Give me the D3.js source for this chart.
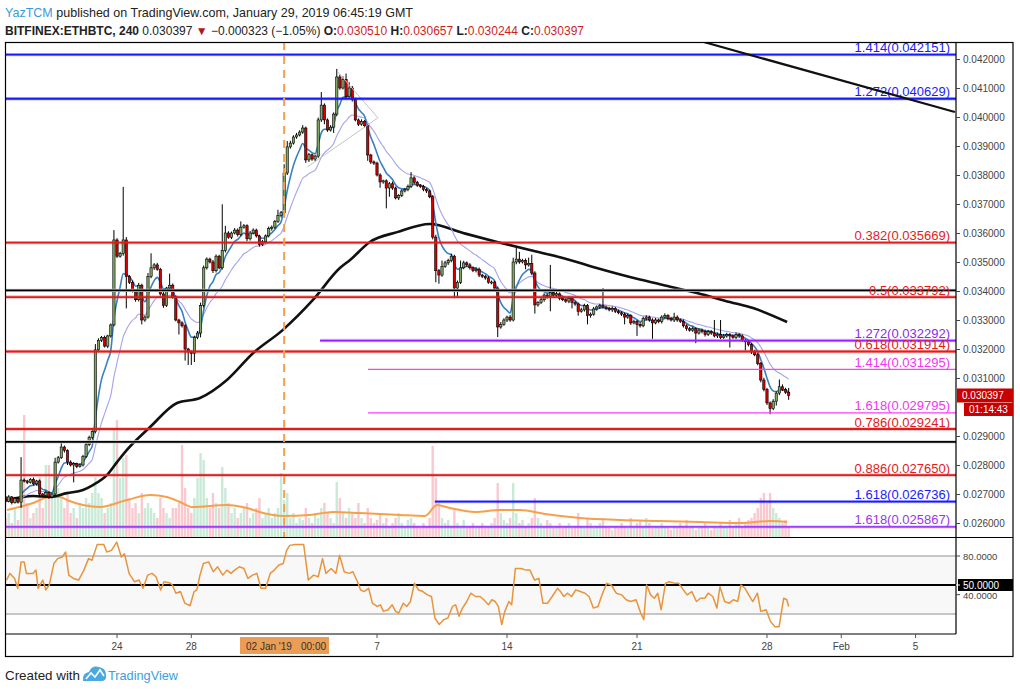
<!DOCTYPE html>
<html><head><meta charset="utf-8">
<script src="https://cdn.jsdelivr.net/npm/d3@7"></script>
<style>body{margin:0;background:#fff;}svg{display:block;font-family:"Liberation Sans",Arial,sans-serif;}</style>
</head><body><svg id="c" width="1020" height="693"></svg>
<script>
// ---------------- DATA ----------------
const firstOpen = 0.02690;
const closes = [
0.02675,0.02690,0.02670,0.02685,0.02672,0.02748,0.02745,0.02740,0.02750,0.02735,
0.02745,0.02700,0.02695,0.02705,0.02690,0.02700,0.02810,0.02825,0.02862,0.02850,
0.02810,0.02800,0.02805,0.02795,0.02800,0.02830,0.02870,0.02895,0.02915,0.03197,
0.03230,0.03240,0.03210,0.03245,0.03283,0.03576,0.03520,0.03530,0.03576,0.03450,
0.03430,0.03400,0.03370,0.03420,0.03300,0.03310,0.03450,0.03480,0.03490,0.03475,
0.03390,0.03350,0.03410,0.03420,0.03380,0.03300,0.03290,0.03280,0.03200,0.03190,
0.03185,0.03240,0.03255,0.03350,0.03480,0.03510,0.03500,0.03470,0.03520,0.03480,
0.03540,0.03600,0.03585,0.03600,0.03610,0.03595,0.03620,0.03625,0.03580,0.03600,
0.03610,0.03590,0.03560,0.03570,0.03590,0.03615,0.03620,0.03640,0.03660,0.03670,
0.03807,0.03897,0.03910,0.03931,0.03938,0.03948,0.03962,0.03852,0.03870,0.03855,
0.03865,0.03990,0.04041,0.03990,0.03955,0.03965,0.04010,0.04138,0.04100,0.04130,
0.04070,0.04100,0.04060,0.03990,0.03975,0.03985,0.03970,0.03869,0.03845,0.03841,
0.03800,0.03776,0.03780,0.03755,0.03770,0.03755,0.03721,0.03730,0.03745,0.03750,
0.03760,0.03790,0.03775,0.03765,0.03760,0.03750,0.03745,0.03725,0.03586,0.03470,
0.03455,0.03485,0.03497,0.03505,0.03520,0.03410,0.03430,0.03480,0.03497,0.03490,
0.03480,0.03470,0.03475,0.03455,0.03450,0.03445,0.03430,0.03431,0.03410,0.03276,
0.03285,0.03300,0.03310,0.03300,0.03500,0.03510,0.03500,0.03505,0.03490,0.03495,
0.03462,0.03352,0.03360,0.03370,0.03386,0.03380,0.03395,0.03385,0.03390,0.03375,
0.03370,0.03365,0.03375,0.03360,0.03355,0.03330,0.03335,0.03350,0.03315,0.03320,
0.03338,0.03345,0.03350,0.03345,0.03340,0.03335,0.03340,0.03330,0.03325,0.03320,
0.03310,0.03315,0.03290,0.03295,0.03285,0.03280,0.03305,0.03310,0.03300,0.03290,
0.03300,0.03295,0.03310,0.03315,0.03305,0.03300,0.03310,0.03300,0.03295,0.03280,
0.03270,0.03265,0.03270,0.03255,0.03265,0.03260,0.03250,0.03260,0.03255,0.03245,
0.03250,0.03240,0.03245,0.03250,0.03245,0.03240,0.03250,0.03245,0.03230,0.03225,
0.03215,0.03190,0.03180,0.03150,0.03093,0.03060,0.03014,0.02995,0.03020,0.03048,
0.03070,0.03060,0.03051,0.030397];
// wick lengths above / below the body, in units of 0.00001
const upWick = [
4,6,3,5,4,79,6,4,5,7,4,5,3,6,4,5,15,6,20,5,
4,6,5,3,6,5,10,6,5,20,7,5,6,4,5,34,6,5,183,10,
5,6,4,8,5,6,12,50,6,7,5,6,4,40,6,5,4,6,5,4,
5,6,7,10,8,6,5,7,6,5,159,25,6,5,7,6,20,6,5,7,
6,5,4,6,5,7,6,5,20,6,30,20,8,6,7,6,10,5,6,4,
5,8,45,6,5,7,6,28,8,10,20,20,7,6,5,7,5,6,4,5,
5,6,4,5,6,7,5,4,6,5,7,20,6,5,4,6,5,4,6,8,
6,20,7,6,8,5,6,25,7,5,6,5,7,6,4,5,6,5,4,6,
8,6,5,7,15,40,25,6,7,20,30,6,5,8,6,5,95,6,7,5,
6,5,7,5,6,5,7,6,5,6,7,5,6,60,5,6,7,5,6,5,
6,7,5,6,5,8,7,6,5,6,7,5,6,8,5,6,15,6,5,7,
5,6,7,5,6,5,7,6,5,45,6,50,7,6,5,6,7,5,6,5,
6,5,7,6,5,8,6,5,7,6,25,8,6,15];
const lowWick = [
5,4,6,3,5,20,5,6,4,5,6,10,5,4,6,5,6,5,4,7,
10,5,60,6,4,5,6,5,7,6,8,6,5,7,6,5,6,5,8,110,
6,5,7,6,15,6,5,6,7,5,6,8,5,6,7,5,40,6,40,45,
40,30,6,15,7,6,5,8,6,5,6,7,5,6,5,7,6,5,8,6,
5,6,7,5,6,5,7,6,5,6,5,7,6,5,6,5,6,10,7,6,
8,6,7,15,6,5,20,7,6,5,8,6,7,5,6,5,6,20,7,6,
5,20,6,70,30,6,5,7,6,5,6,5,7,6,5,6,7,5,8,40,
30,6,5,7,6,35,30,6,5,7,6,5,6,7,5,6,5,7,6,35,
6,5,7,6,5,8,6,5,15,6,7,30,6,5,7,6,50,5,6,7,
5,6,7,20,6,15,5,6,30,7,5,6,7,5,6,5,7,6,5,6,
25,6,7,5,40,6,5,7,6,55,5,6,7,5,6,5,7,6,5,6,
7,5,6,35,5,6,7,5,6,5,7,6,5,6,40,5,6,7,5,30,
6,7,5,6,8,6,7,20,6,15,7,5,6,15];
const volumes = [
20,25,15,30,18,40,123,35,20,25,30,61,30,73,73,40,53,50,40,30,
45,25,30,20,35,30,40,35,45,61,45,40,25,30,35,108,118,60,80,83,
40,30,35,25,45,30,35,30,25,20,40,30,25,20,30,30,35,93,50,30,
25,40,60,85,78,40,30,45,35,30,71,50,35,25,30,20,25,30,35,20,
25,30,40,20,25,30,20,25,30,65,38,45,20,25,15,20,18,30,20,15,
25,20,30,35,25,20,15,56,40,25,20,30,25,20,35,20,15,30,20,15,
18,25,15,20,12,15,20,25,15,12,18,20,15,12,10,15,12,20,92,60,
35,20,15,18,12,30,15,12,18,10,12,15,10,12,15,10,12,15,20,55,
25,18,15,20,55,25,15,18,12,15,20,40,20,15,12,18,15,10,12,15,
10,12,15,10,12,25,12,10,20,15,10,12,15,20,12,10,8,12,10,15,
12,10,20,12,15,18,12,20,15,10,12,10,15,12,10,8,12,10,15,12,
18,10,12,8,10,12,15,10,8,12,10,15,12,10,18,12,15,20,12,15,
18,20,25,30,40,45,35,45,30,25,20,15,18,12];
// volume moving average (bar index, volume)
const vmaBar = [0.5,8.9,14.3,17.6,19.8,25,30.5,39.2,46.7,52.1,56.3,60.5,71.5,78,83.2,89.6,98.3,105.8,114.5,127.4,135.5,139.4,143.6,151.7,159.7,166.2,174.3,185.6,198.5,211.4,224.4,237.3,247,252.5];
const vmaVal = [28,35,41,41,38,33,31,38,43,41,36,31,33,30,25,22,23,26,25,23,22,33,30,26,28,28,24,20,18,17,16,15,17,16];
// long moving average (bar index, price)
const maBar = [0.5,8.9,14.3,19.8,25,28.2,32.8,36,39.2,46.7,55.4,62.8,71.5,80,89.6,99.3,108,111.3,117.7,126.5,137.1,147.8,158.8,169.4,180,191,201.7,212.4,223.4,234,241.5,252.5];
const maVal = [0.02679,0.02693,0.02690,0.02703,0.02714,0.02731,0.02766,0.02810,0.02852,0.02931,0.03014,0.03031,0.03093,0.03186,0.03266,0.03369,0.03479,0.03507,0.03569,0.03603,0.03631,0.03600,0.03569,0.03541,0.03514,0.03479,0.03448,0.03421,0.03393,0.03362,0.03341,0.03293];
// RSI (bar index, value)
const rsiBar = [0.3,1.4,2.9,3.9,5.0,6.0,6.7,8.8,9.8,10.5,12.0,13.0,14.1,15.6,16.8,18.3,19.4,20.4,21.9,23.6,25.3,26.8,27.9,29.6,31.7,32.7,34.2,35.9,37.4,38.4,39.9,41.6,43.1,44.4,45.9,47.3,48.6,50.1,51.2,52.9,53.9,55.0,56.5,57.9,59.6,60.9,61.8,62.8,63.9,65.6,67.1,68.5,70.2,71.5,72.8,74.0,75.5,77.0,78.3,79.8,81.2,82.5,84.0,85.5,86.8,88.2,89.7,90.8,91.8,93.5,96.3,97.8,99.5,101.0,102.4,103.5,105.2,106.7,107.9,109.4,110.9,112.2,113.7,114.7,115.8,117.3,118.5,120.0,121.1,122.1,123.6,124.9,126.0,127.0,128.5,129.6,130.8,132.1,133.4,134.8,136.3,137.6,138.7,140.1,141.6,142.9,144.4,145.4,146.5,147.6,149.0,150.3,151.8,153.3,154.5,156.0,157.1,158.2,159.2,160.3,161.3,162.6,163.5,164.7,166.6,168.1,169.4,170.9,172.3,173.6,175.1,176.6,178.3,179.3,180.4,181.5,182.9,184.2,185.7,187.2,188.5,189.9,191.4,192.7,194.2,195.7,197.3,199.0,200.5,202.0,203.7,205.2,206.2,207.1,208.4,209.6,210.7,211.8,213.2,214.3,216.4,217.5,219.0,220.2,221.7,223.2,224.5,225.9,227.0,228.5,229.8,230.8,232.3,233.8,235.1,236.5,237.6,238.9,240.1,241.4,242.9,244.0,245.7,247.1,248.6,249.9,251.4,252.4,253.0];
const rsiVal = [55.1,62.0,56.8,46.6,73.9,73.9,62.0,62.0,65.4,46.6,55.1,44.9,50.0,72.2,77.3,79.0,84.1,60.2,56.8,55.1,65.4,77.3,75.6,92.0,92.0,84.1,85.8,94.4,79.0,82.4,62.0,53.4,55.1,46.6,60.2,62.0,58.5,44.9,53.4,52.4,50.0,41.5,43.2,31.2,28.5,43.2,44.9,60.2,72.2,73.9,63.7,68.8,60.2,65.4,62.0,65.4,68.8,67.1,56.8,60.2,62.0,46.6,46.6,62.0,65.4,70.5,72.2,85.8,91.0,92.0,92.0,55.1,60.2,58.5,77.3,62.0,67.1,62.0,80.7,63.7,62.0,63.7,53.4,44.9,43.2,46.6,31.2,27.8,29.5,22.7,24.4,29.5,22.7,21.0,31.2,27.8,32.9,51.7,44.9,43.2,39.8,38.1,15.9,9.1,14.2,15.9,27.8,29.5,17.6,26.1,32.9,41.5,38.1,38.1,34.7,29.5,34.7,32.9,27.8,9.1,22.7,32.9,29.5,67.1,67.1,65.4,65.4,55.1,56.8,31.2,31.2,38.1,46.6,43.2,38.1,41.5,38.1,44.9,43.2,41.5,38.1,26.1,27.8,39.8,51.7,50.0,41.5,39.8,34.7,32.9,34.7,21.0,14.2,50.0,39.8,36.3,41.5,24.4,51.7,53.4,51.7,51.7,44.9,39.8,43.2,32.9,36.3,36.3,41.5,38.1,26.1,48.3,32.9,31.2,34.7,32.9,50.0,46.6,39.8,32.9,41.5,22.7,24.4,12.5,6.7,6.7,36.3,34.7,27.8];
// Fibonacci levels
const fibLabel = ["1.414(0.042151)","1.272(0.040629)","0.382(0.035669)","0.5(0.033792)","1.272(0.032292)","0.618(0.031914)","1.414(0.031295)","1.618(0.029795)","0.786(0.029241)","0.886(0.027650)","1.618(0.026736)","1.618(0.025867)"];
const fibPrice = [0.042151,0.040629,0.035669,0.033792,0.032292,0.031914,0.031295,0.029795,0.029241,0.027650,0.026736,0.025867];
const fibStartBar = [0,0,0,0,101.6,0,117.1,117.1,0,0,138.7,0];
const fibTool = ["extA","extA","ret","ret","extB","ret","extC","extC","ret","ret","extA","extD"];
const hLinePrice = [0.03402, 0.02880];
const trendBar = [224.4, 306.7], trendPrice = [0.04262, 0.040172];
const wedgeBar = [97.5, 120.3, 107.4], wedgePrice = [0.03828, 0.03997, 0.04155];
const markerDate = "2019-01-02T00:00Z";
// 0.030000 is hidden behind the live price / countdown labels in the reference
const priceTicks = [0.042,0.041,0.040,0.039,0.038,0.037,0.036,0.035,0.034,0.033,0.032,0.031,0.029,0.028,0.027,0.026];
const timeTickDates = ["2018-12-24","2018-12-28","2019-01-07","2019-01-14","2019-01-21","2019-01-28","2019-02-01","2019-02-05"];
const timeTickLabels = ["24","28","7","14","21","28","Feb","5"];
const rsiLevels = [80, 50, 20];
const rsiAxisValues = [80, 50, 40];
const rsiAxisLabels = ["80.0000","50.0000","40.0000"];
const lastPriceLabel = "0.030397", countdown = "01:14:43";
const ohlcKeys = ["O:", "H:", "L:", "C:"], ohlcVals = ["0.030510", "0.030657", "0.030244", "0.030397"];

// ---------------- CHART ----------------
const svg = d3.select("#c");
const L = 6, R = 956, TOP = 42, MB = 537, RB = 634, BOT = 656, OR = 1013;
const t0 = Date.UTC(2018, 11, 18), H4 = 4 * 3600e3;
const x = d3.scaleUtc().domain([t0, Date.UTC(2019, 1, 7)]).range([5.6, 952.7]);
const xb = i => x(new Date(t0 + i * H4));
const y = d3.scaleLinear().domain([0.026, 0.042]).range([523, 59]);
const yv = d3.scaleLinear().domain([0, 130]).range([538, 408]);
const yr = d3.scaleLinear().domain([20, 80]).range([614, 556]);

const defs = svg.append("defs");
defs.append("clipPath").attr("id", "mainClip").append("rect").attr("x", L).attr("y", TOP).attr("width", R - L).attr("height", MB - TOP);
defs.append("clipPath").attr("id", "rsiClip").append("rect").attr("x", L).attr("y", MB).attr("width", R - L).attr("height", RB - MB);

const opens = closes.map((c, i) => i === 0 ? firstOpen : closes[i - 1]);
const bars = closes.map((c, i) => {
  const o = opens[i];
  return {i, o, c, h: Math.max(o, c) + upWick[i] * 1e-5, l: Math.min(o, c) - lowWick[i] * 1e-5, v: volumes[i], up: c >= o};
});
function ema(arr, n) { const k = 2 / (n + 1); let e = arr[0]; return arr.map((v, i) => (e = i === 0 ? v : v * k + e * (1 - k))); }
const emaFast = ema(closes, 6), emaSlow = ema(closes, 16);

const main = svg.append("g").attr("clip-path", "url(#mainClip)");
// volume
main.append("g").selectAll("rect").data(bars).join("rect")
  .attr("x", d => xb(d.i) - 1.2).attr("width", 2.4)
  .attr("y", d => yv(d.v)).attr("height", d => yv(0) - yv(d.v))
  .attr("fill", d => d.up ? "rgba(110,200,150,0.38)" : "rgba(240,120,135,0.40)");
const vmaLine = d3.line().x((d, k) => xb(vmaBar[k])).y(d => yv(d)).curve(d3.curveMonotoneX);
main.append("path").attr("d", vmaLine(vmaVal)).attr("fill", "none").attr("stroke", "#f7a04b").attr("stroke-width", 2);

// moving averages
const maLine = d3.line().x((d, k) => xb(maBar[k])).y(d => y(d)).curve(d3.curveMonotoneX);
main.append("path").attr("d", maLine(maVal)).attr("fill", "none").attr("stroke", "#111").attr("stroke-width", 2.6);
const emaLine = d3.line().x((d, k) => xb(k)).y(d => y(d)).curve(d3.curveMonotoneX);
main.append("path").attr("d", emaLine(emaSlow)).attr("fill", "none").attr("stroke", "#a3a3ee").attr("stroke-width", 1.1);
main.append("path").attr("d", emaLine(emaFast)).attr("fill", "none").attr("stroke", "#3a80c3").attr("stroke-width", 1.6);

// candles
const cg = main.append("g");
cg.selectAll("line").data(bars).join("line")
  .attr("x1", d => xb(d.i)).attr("x2", d => xb(d.i))
  .attr("y1", d => y(d.h)).attr("y2", d => y(d.l)).attr("stroke", "#000").attr("stroke-width", 1);
cg.selectAll("rect").data(bars).join("rect")
  .attr("x", d => xb(d.i) - 1.15).attr("width", 2.3)
  .attr("y", d => y(Math.max(d.o, d.c)))
  .attr("height", d => Math.max(1, Math.abs(y(d.o) - y(d.c))))
  .attr("fill", d => d.up ? "#7fa862" : "#d40000").attr("stroke", "#000").attr("stroke-width", 0.6);

// wedge drawing
main.append("path").attr("d", d3.line()([[xb(wedgeBar[0]), y(wedgePrice[0])], [xb(wedgeBar[1]), y(wedgePrice[1])], [xb(wedgeBar[2]), y(wedgePrice[2])]]))
  .attr("fill", "none").attr("stroke", "#c4c4c4").attr("stroke-width", 1);

// horizontal lines
const toolStyle = {
  extA: {color: "#1a1aff", text: "#1a1aff", w: 2},
  ret: {color: "#e31b1b", text: "#e31b1b", w: 2},
  extB: {color: "#9a1eff", text: "#8a2be2", w: 2},
  extC: {color: "#ff3cff", text: "#f036f0", w: 1},
  extD: {color: "#a040ff", text: "#9a36e6", w: 2}
};
hLinePrice.forEach(p => {
  main.append("line").attr("x1", L).attr("x2", R).attr("y1", y(p)).attr("y2", y(p)).attr("stroke", "#cfcfcf").attr("stroke-width", 3.2);
  main.append("line").attr("x1", L).attr("x2", R).attr("y1", y(p)).attr("y2", y(p)).attr("stroke", "#000").attr("stroke-width", 1.8);
});
fibPrice.forEach((p, k) => {
  const st = toolStyle[fibTool[k]];
  const x0 = fibStartBar[k] === 0 ? L : xb(fibStartBar[k]);
  if (st.w > 1) main.append("line").attr("x1", x0).attr("x2", R).attr("y1", y(p)).attr("y2", y(p)).attr("stroke", st.color).attr("stroke-opacity", 0.3).attr("stroke-width", 3.4);
  main.append("line").attr("x1", x0).attr("x2", R).attr("y1", y(p)).attr("y2", y(p)).attr("stroke", st.color).attr("stroke-width", st.w === 1 ? 1.2 : 1.8);
  main.append("text").attr("x", 950).attr("y", y(p) - 2.5).attr("text-anchor", "end").attr("font-size", 13).attr("fill", st.text).text(fibLabel[k]);
});
// trend line
main.append("line").attr("x1", xb(trendBar[0])).attr("y1", y(trendPrice[0])).attr("x2", xb(trendBar[1])).attr("y2", y(trendPrice[1]))
  .attr("stroke", "#111").attr("stroke-width", 2.2);
// vertical dashed marker
const xm = x(new Date(markerDate));
main.append("line").attr("x1", xm).attr("x2", xm).attr("y1", TOP).attr("y2", MB).attr("stroke", "#f0a050").attr("stroke-width", 2).attr("stroke-dasharray", "8,6");

// ---------------- RSI ----------------
const rsi = svg.append("g").attr("clip-path", "url(#rsiClip)");
rsi.append("rect").attr("x", L).attr("width", R - L).attr("y", yr(80)).attr("height", yr(20) - yr(80)).attr("fill", "#f8f8f8");
rsiLevels.forEach(v => {
  rsi.append("line").attr("x1", L).attr("x2", R).attr("y1", yr(v)).attr("y2", yr(v))
    .attr("stroke", v === 50 ? "#000" : "#c6c6c6").attr("stroke-width", v === 50 ? 2 : 2.2);
});
const rsiLine = d3.line().x((d, k) => xb(rsiBar[k])).y(d => yr(d));
rsi.append("path").attr("d", rsiLine(rsiVal)).attr("fill", "none").attr("stroke", "#e8943c").attr("stroke-width", 1.5).attr("stroke-linejoin", "round");

// ---------------- FRAME & AXES ----------------
const fr = svg.append("g").attr("fill", "none").attr("stroke", "#000");
fr.append("rect").attr("x", 5.5).attr("y", TOP + 0.5).attr("width", OR - 5.5).attr("height", BOT - TOP).attr("stroke-width", 1.2);
fr.append("line").attr("x1", R).attr("x2", R).attr("y1", TOP).attr("y2", RB).attr("stroke-width", 1.2);
fr.append("line").attr("x1", L).attr("x2", OR).attr("y1", MB + 0.5).attr("y2", MB + 0.5).attr("stroke-width", 1.2);
fr.append("line").attr("x1", L).attr("x2", R).attr("y1", RB).attr("y2", RB).attr("stroke-width", 1.2);

const yAxis = d3.axisRight(y).tickValues(priceTicks).tickFormat(d3.format(".6f")).tickSize(4).tickPadding(3);
const ya = svg.append("g").attr("transform", `translate(${R},0)`).call(yAxis);
ya.select(".domain").remove();
ya.selectAll("text").attr("font-size", 10).attr("fill", "#444").attr("font-family", "Liberation Sans, Arial, sans-serif");
ya.selectAll("line").attr("stroke", "#444");

// RSI axis labels (40 label first so the 50 box sits over it, as in the reference)
[2, 0, 1].forEach(k => {
  const v = rsiAxisValues[k];
  if (v === 50) svg.append("rect").attr("x", R + 2).attr("y", yr(v) - 6).attr("width", OR - R - 2).attr("height", 12).attr("fill", "#000");
  svg.append("line").attr("x1", R).attr("x2", R + 4).attr("y1", yr(v)).attr("y2", yr(v)).attr("stroke", v === 50 ? "#fff" : "#444");
  svg.append("text").attr("x", R + 7).attr("y", yr(v) + (v === 40 ? 4.5 : 3.5)).attr("font-size", v === 50 ? 10 : 9.5).attr("fill", v === 50 ? "#fff" : "#444").text(rsiAxisLabels[k]);
});

// price labels
const yl = y(closes[closes.length - 1]);
svg.append("rect").attr("x", R + 1).attr("y", yl - 7).attr("width", OR - R - 1).attr("height", 14).attr("fill", "#c90000");
svg.append("text").attr("x", R + 6).attr("y", yl + 3.5).attr("font-size", 10).attr("fill", "#fff").text(lastPriceLabel);
svg.append("rect").attr("x", 964).attr("y", yl + 7.5).attr("width", OR - 964).attr("height", 13).attr("fill", "#c90000");
svg.append("text").attr("x", 969).attr("y", yl + 17.5).attr("font-size", 10).attr("fill", "#fff").text(countdown);

// time axis
const tg = svg.append("g");
timeTickDates.forEach((d, k) => {
  const xx = x(new Date(d + "T00:00Z"));
  tg.append("line").attr("x1", xx).attr("x2", xx).attr("y1", RB).attr("y2", RB + 4).attr("stroke", "#555");
  tg.append("text").attr("x", xx).attr("y", 650).attr("text-anchor", "middle").attr("font-size", 10).attr("fill", "#444").text(timeTickLabels[k]);
});
tg.append("rect").attr("x", 240).attr("y", 637).attr("width", 89).attr("height", 17).attr("fill", "#e99d55");
tg.append("text").attr("x", 246).attr("y", 650).attr("font-size", 10).attr("fill", "#333").text("02 Jan '19");
tg.append("text").attr("x", 301).attr("y", 650).attr("font-size", 10).attr("fill", "#333").text("00:00");

// ---------------- HEADER / FOOTER ----------------
const h1 = svg.append("text").attr("x", 5).attr("y", 17).attr("font-size", 13.5).attr("fill", "#222")
  .attr("textLength", 408).attr("lengthAdjust", "spacingAndGlyphs");
h1.append("tspan").attr("fill", "#3b9bd9").text("YazTCM");
h1.append("tspan").text(" published on TradingView.com, January 29, 2019 06:45:19 GMT");

// second header line: natural widths (12px) so no piece overlaps its neighbour
const h2 = svg.append("text").attr("x", 5).attr("y", 35).attr("font-size", 12).attr("fill", "#222");
h2.append("tspan").attr("font-weight", "bold").text("BITFINEX:ETHBTC, 240");
h2.append("tspan").text(" 0.030397 ");
h2.append("tspan").attr("fill", "#b0181c").text("▼");
h2.append("tspan").text(" \u22120.000323 (\u22121.05%) ");
ohlcKeys.forEach((k, j) => {
  h2.append("tspan").attr("font-weight", "bold").text((j ? " " : "") + k);
  h2.append("tspan").attr("fill", "#cc1f1f").text(ohlcVals[j]);
});

svg.append("text").attr("x", 5).attr("y", 680).attr("font-size", 13.5).attr("fill", "#222")
  .attr("textLength", 75).attr("lengthAdjust", "spacingAndGlyphs").text("Created with");
svg.append("path").attr("d", "M83,681 Q82,673 89,672 Q92,665 99,667 Q106,668 106,675 Q107,681 101,681 Z").attr("fill", "#4aa8e2");
svg.append("path").attr("d", "M86,679 L91,673 L95,677 L100,670 L104,676").attr("fill", "none").attr("stroke", "#fff").attr("stroke-width", 1.6);
svg.append("text").attr("x", 108).attr("y", 680).attr("font-size", 13.5).attr("fill", "#3ba0dc")
  .attr("textLength", 70).attr("lengthAdjust", "spacingAndGlyphs").text("TradingView");
</script></body></html>
